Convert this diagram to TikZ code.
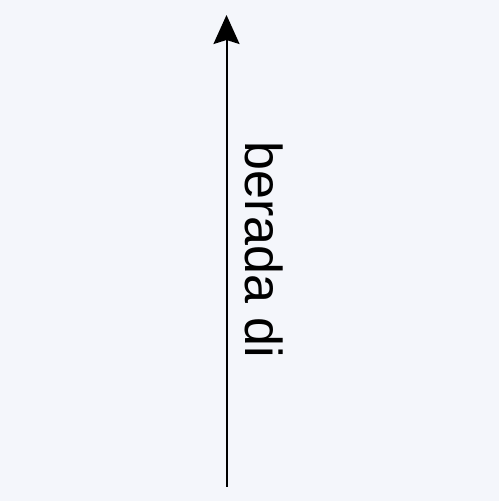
\documentclass[tikz,border=0pt]{standalone}
\usepackage{fontspec}
\setmainfont{Liberation Sans}
\usetikzlibrary{arrows.meta}
\definecolor{bgpanel}{RGB}{244,246,251}
\tikzset{>=Stealth}
\tikzset{link/.style = {draw=black, line width=2pt, -{Stealth[length=29pt,width=26pt,inset=4pt]}},
         reltext/.style = {font=\fontsize{52}{60}\selectfont, inner sep=0pt, rotate=-90}}

\begin{document}
\begin{tikzpicture}[x=1pt,y=1pt]
    \fill[bgpanel] (0,0) rectangle (499,501);
    \useasboundingbox (0,0) rectangle (499,501);

    \coordinate (foot) at (226.5,14);
    \coordinate (head) at (226.5,486);

    \draw[link] (foot) -- (head);
    \node[reltext, anchor=base west] (relname) at (245,360) {berada di};
\end{tikzpicture}
\end{document}
